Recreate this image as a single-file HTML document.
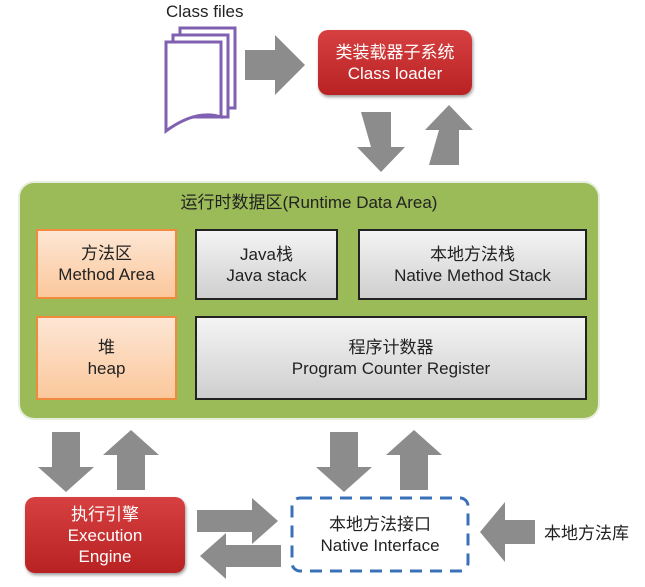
<!DOCTYPE html>
<html><head><meta charset="utf-8"><style>
body{margin:0;width:645px;height:587px;background:#fff;position:relative;overflow:hidden;font-family:"Liberation Sans","Noto Sans CJK SC",sans-serif}
.a{position:absolute}
.t{position:absolute;text-align:center;display:flex;flex-direction:column;justify-content:center;align-items:center;line-height:21px;font-size:17px}
.red{background:linear-gradient(#d64040,#b82222);border-radius:10px;color:#fff;box-shadow:1px 2px 3px #999}
.or{background:linear-gradient(#fde6d4,#fbc89c);border:2px solid #f08a3e;color:#222}
.gr{background:linear-gradient(#f4f4f4,#cfcfcf);border:2px solid #222;color:#222}
</style></head><body>
<svg class="a" style="left:0;top:0" width="645" height="587">
<g fill="none" stroke="#8060b0" stroke-width="3">
<path d="M180 28 h55 v80 h-55z" fill="#fff"/>
<path d="M173 35 h55 v82 h-55z" fill="#fff"/>
<path d="M166 42 h55 v75 q-25 -8 -55 14z" fill="#fff"/>
</g>
<g fill="#8c8c8c">
<path d="M245 50 h30 v-15 l30 30 l-30 30 v-15 h-30z"/>
<path d="M365 112 h30 v35 h14 l-24 25 l-24 -25 h14z" transform="translate(-4,0)"/>
<path d="M425 165 h30 v-35 h14 l-24 -25 l-24 25 h14z" transform="translate(4,0)"/>
<path d="M50 432 h28 v35 h14 l-28 25 l-28 -25 h14z" transform="translate(2,0)"/>
<path d="M113 490 h28 v-35 h14 l-28 -25 l-28 25 h14z" transform="translate(4,0)"/>
<path d="M330 432 h28 v35 h14 l-28 25 l-28 -25 h14z"/>
<path d="M397 490 h28 v-35 h14 l-28 -25 l-28 25 h14z" transform="translate(3,0)"/>
<path d="M197 510 h55 v-12 l26 23 l-26 23 v-12 h-55z"/>
<path d="M281 545 h-55 v-12 l-26 23 l26 23 v-12 h55z"/>
<path d="M535 520 h-30 v-18 l-25 30 l25 30 v-18 h30z"/>
</g>
<rect x="292" y="498" width="176" height="73" rx="8" fill="none" stroke="#3a70b8" stroke-width="3" stroke-dasharray="12 8"/>
</svg>
<div class="a" style="left:166px;top:2px;font-size:17px;color:#222">Class files</div>
<div class="t red" style="left:318px;top:30px;width:154px;height:65px">类装载器子系统<br>Class loader</div>
<div class="a" style="left:20px;top:183px;width:578px;height:235px;background:#9bbb59;border-radius:14px;box-shadow:0 0 0 2px #e8eedd"></div>
<div class="t" style="left:20px;top:190px;width:578px;height:24px;color:#222">运行时数据区(Runtime Data Area)</div>
<div class="t or" style="left:36px;top:229px;width:137px;height:66px">方法区<br>Method Area</div>
<div class="t gr" style="left:195px;top:229px;width:139px;height:67px">Java栈<br>Java stack</div>
<div class="t gr" style="left:358px;top:229px;width:225px;height:67px">本地方法栈<br>Native Method Stack</div>
<div class="t or" style="left:36px;top:316px;width:137px;height:80px">堆<br>heap</div>
<div class="t gr" style="left:195px;top:316px;width:388px;height:80px">程序计数器<br>Program Counter Register</div>
<div class="t red" style="left:25px;top:497px;width:160px;height:76px">执行引擎<br>Execution<br>Engine</div>
<div class="t" style="left:292px;top:498px;width:176px;height:73px;color:#222">本地方法接口<br>Native Interface</div>
<div class="a" style="left:544px;top:519px;font-size:17px;color:#222">本地方法库</div>
</body></html>
